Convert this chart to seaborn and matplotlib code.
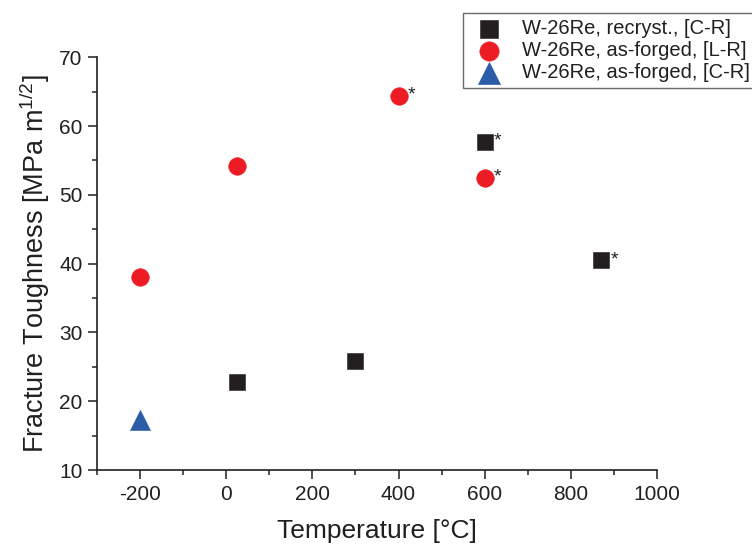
import matplotlib
matplotlib.use("Agg")
import matplotlib.pyplot as plt
import seaborn as sns
import pandas as pd
from matplotlib.ticker import MultipleLocator

# ---- data ----
recryst_T = [25, 300, 600, 870]
recryst_K = [22.8, 25.9, 57.7, 40.5]
forged_LR_T = [-200, 25, 400, 600]
forged_LR_K = [38.0, 54.2, 64.4, 52.5]
forged_CR_T = [-200]
forged_CR_K = [17.2]
series_names = ["W-26Re, recryst., [C-R]",
                "W-26Re, as-forged, [L-R]",
                "W-26Re, as-forged, [C-R]"]
# points flagged with an asterisk
star_T = [400, 600, 600, 870]
star_K = [64.4, 57.7, 52.5, 40.5]

x_label = "Temperature [°C]"
y_label = "Fracture Toughness [MPa m$^{\\mathregular{1/2}}$]"

sns.set_theme(style="ticks")
plt.rcParams['font.family'] = ['Liberation Sans', 'DejaVu Sans']
plt.rcParams['mathtext.fontset'] = 'custom'
plt.rcParams['mathtext.rm'] = 'Liberation Sans'
plt.rcParams['axes.unicode_minus'] = False

df = pd.DataFrame({
    "T": recryst_T + forged_LR_T + forged_CR_T,
    "K": recryst_K + forged_LR_K + forged_CR_K,
    "series": [series_names[0]] * len(recryst_T)
              + [series_names[1]] * len(forged_LR_T)
              + [series_names[2]] * len(forged_CR_T),
})

palette = {series_names[0]: "#231f20",
           series_names[1]: "#ed1c24",
           series_names[2]: "#2b5ca8"}
markers = {series_names[0]: "s",
           series_names[1]: "o",
           series_names[2]: "^"}
sizes = {series_names[0]: 125, series_names[1]: 160, series_names[2]: 210}

fig = plt.figure(figsize=(7.52, 5.48), dpi=100)
ax = fig.add_axes([0.1294, 0.1423, 0.8733 - 0.1294, 0.8954 - 0.1423])

for name in series_names:
    sub = df[df["series"] == name]
    sns.scatterplot(data=sub, x="T", y="K", marker=markers[name],
                    color=palette[name], s=sizes[name], edgecolor=palette[name],
                    linewidth=0.4, ax=ax, label=name, zorder=3)
if ax.get_legend() is not None:
    ax.get_legend().remove()

for t, k in zip(star_T, star_K):
    ax.annotate("*", (t, k), xytext=(9.5, 0.5), textcoords="offset points",
                ha="center", va="center", fontsize=14, color="#231f20")

ax.set_xlim(-300, 1000)
ax.set_ylim(10, 70)
ax.xaxis.set_minor_locator(MultipleLocator(100))
ax.yaxis.set_major_locator(MultipleLocator(10))
ax.yaxis.set_minor_locator(MultipleLocator(5))
ax.set_xticks(range(-200, 1001, 200))

ax.tick_params(which="major", direction="out", length=6.5, width=1.1,
               labelsize=15, color="#231f20", labelcolor="#231f20", pad=4)
ax.tick_params(which="minor", direction="out", length=3.5, width=1.1,
               color="#231f20")
for side in ["top", "right"]:
    ax.spines[side].set_visible(False)
for side in ["left", "bottom"]:
    ax.spines[side].set_linewidth(1.2)
    ax.spines[side].set_color("#231f20")

ax.set_xlabel(x_label, fontsize=19, color="#231f20", labelpad=11)
ax.set_ylabel(y_label, fontsize=19.5, color="#231f20", labelpad=5)

handles, labels = ax.get_legend_handles_labels()
leg = fig.legend(handles, labels, loc="upper left",
                 bbox_to_anchor=(463 / 752, 1 - 13 / 548),
                 fontsize=14.5, frameon=True, fancybox=False,
                 borderpad=0.3, labelspacing=0.15, handletextpad=0.65,
                 handlelength=2.0, borderaxespad=0, markerscale=1.1)
leg.get_frame().set_edgecolor("#444444")
leg.get_frame().set_linewidth(1.0)
for t in leg.get_texts():
    t.set_color("#231f20")

fig.savefig("out.png", dpi=100)
